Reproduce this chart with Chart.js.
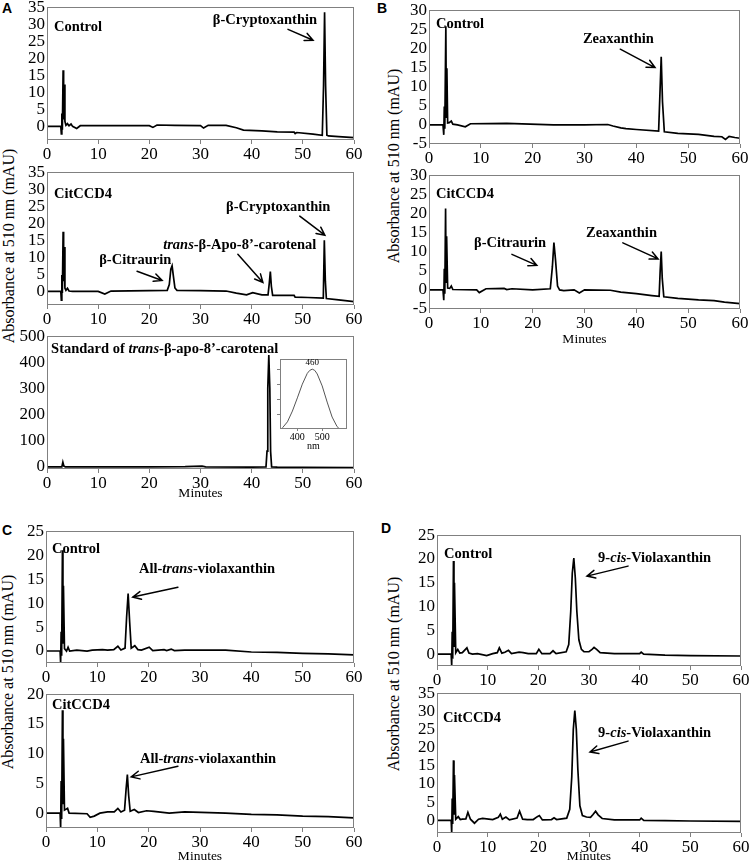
<!DOCTYPE html>
<html>
<head>
<meta charset="utf-8">
<script src="https://cdn.jsdelivr.net/npm/chart.js@4"></script>
<style>
  body { margin: 0; background: #fff; }
  #fig { position: relative; width: 750px; height: 863px; overflow: hidden; font-family: "Liberation Serif", serif; }
  #fig canvas { position: absolute; }
  .letter { position: absolute; font: bold 14px "Liberation Sans", Arial, sans-serif; line-height: 16px; }
  .ytitle { position: absolute; font-size: 16px; white-space: nowrap; transform: translate(-50%, -50%) rotate(-90deg); }
</style>
</head>
<body>
<div id="fig">
  <div class="letter" style="left:2px;top:0px">A</div>
  <div class="letter" style="left:377px;top:0px">B</div>
  <div class="letter" style="left:2px;top:522px">C</div>
  <div class="letter" style="left:381px;top:520px">D</div>
  <div class="ytitle" style="left:9px;top:246px">Absorbance at 510 nm (mAU)</div>
  <div class="ytitle" style="left:394px;top:166px">Absorbance at 510 nm (mAU)</div>
  <div class="ytitle" style="left:8px;top:672px">Absorbance at 510 nm (mAU)</div>
  <div class="ytitle" style="left:394px;top:674px">Absorbance at 510 nm (mAU)</div>
</div>
<script>
// tick labels
const minuteTicks = [0, 10, 20, 30, 40, 50, 60];
const ticks35 = [0, 5, 10, 15, 20, 25, 30, 35];
const ticksB = [-5, 0, 5, 10, 15, 20, 25, 30];
const ticks500 = [0, 100, 200, 300, 400, 500];
const ticks25 = [0, 5, 10, 15, 20, 25];
const ticks20 = [0, 5, 10, 15, 20];
const nmTicks = [400, 500];

// A - beta-cryptoxanthin
const tA1 = [0, 2.7, 2.8, 2.9, 3.0, 3.15, 3.25, 3.35, 3.5, 3.7, 4.0, 4.3, 4.7, 5.0, 5.8, 6.5, 10, 15, 20, 20.7, 21.5, 25, 30, 30.6, 31.5, 35, 37, 38.4, 42, 45, 48.3, 48.5, 48.8, 52, 53.8, 54.05, 54.25, 54.45, 54.7, 55, 57, 60];
const vA1 = [0, 0, -2.2, 3.8, -1, 16.5, 2, 12.3, 1.5, 0.3, 0.8, 0.2, 0.7, 0, -0.6, 0.2, 0.2, 0.2, 0.2, -0.3, 0.4, 0.3, 0.2, -0.5, 0.3, 0.3, -0.4, -1.1, -1.3, -1.6, -1.7, -2.1, -1.8, -2.3, -2.6, 12, 33.5, 12, -2.6, -2.8, -3.0, -3.3];
const tA2 = [0, 2.7, 2.8, 2.9, 3.0, 3.15, 3.25, 3.35, 3.5, 3.7, 4.0, 4.3, 5, 10, 11.3, 12.5, 20, 23.5, 23.9, 24.2, 24.45, 24.7, 25.0, 25.4, 30, 35, 37, 39, 40.2, 42, 43.2, 43.45, 43.65, 43.85, 44.1, 48.3, 48.5, 51, 54.0, 54.2, 54.4, 54.6, 57, 60];
const vA2 = [0, 0, -2.6, 4.8, -0.5, 17.5, 3, 13, 1, 0.3, 0.9, 0.1, 0, 0, -0.8, 0.1, 0.2, 0.3, 2, 6.5, 7.5, 4.5, 1, 0.3, 0.2, 0.1, -0.5, -1, -0.4, -1, -1, 2.5, 5.8, 1.5, -1.2, -1.2, -1.7, -1.8, -2, 15, 3, -2.1, -2.5, -3];
const tA3 = [0, 2.9, 3.1, 3.3, 3.6, 10, 20, 27, 30.3, 31, 40, 42.8, 43.0, 43.15, 43.35, 43.55, 43.7, 43.9, 45, 50, 60];
const vA3 = [0, 0, 18, 3, 0, 0, 0, 1, 3, 0, -1, 0, 60, 300, 428, 300, 60, 0, -1, -2, -3];
// inset spectrum
const nmInset = [340, 360, 380, 400, 420, 440, 450, 460, 470, 480, 500, 520, 540, 560, 570];
const absInset = [0.02, 0.12, 0.3, 0.52, 0.75, 0.93, 0.98, 1.0, 0.98, 0.92, 0.72, 0.45, 0.2, 0.04, 0];

// B - zeaxanthin
const tB1 = [0, 2.7, 2.85, 2.95, 3.05, 3.25, 3.35, 3.45, 3.6, 3.9, 4.3, 4.6, 5.5, 7.0, 8.0, 15, 24, 30, 34.5, 35.5, 37, 38, 40, 44.3, 44.55, 44.8, 45.05, 45.4, 48, 52, 55, 56.5, 57.2, 57.9, 59, 60];
const vB1 = [0, 0, -2.6, 4.8, -1, 25.8, 2, 14.8, 0.5, 0.6, 1, 0.2, 0, -0.5, 0.3, 0.4, 0, 0, 0.1, -0.3, -0.8, -1, -1.2, -1.6, 8, 17.8, 6, -1.8, -2.2, -2.5, -3, -3.1, -3.8, -3, -3.3, -3.5];
const tB2 = [0, 2.7, 2.85, 2.95, 3.05, 3.2, 3.3, 3.4, 3.6, 4.0, 4.3, 4.6, 9.2, 9.7, 11, 14.5, 15, 16, 20, 23.4, 23.8, 24.1, 24.4, 24.8, 25.2, 26, 28, 29, 30, 35, 37, 40, 43, 44.4, 44.6, 44.8, 45.0, 45.3, 48, 52, 55, 57, 60];
const vB2 = [0, 0, -2.7, 5.5, -1, 21.3, 2, 14, 0.5, 0.4, 1, 0.1, 0, -0.7, 0.3, 0.4, 0.1, 0.3, 0, 0.3, 6, 12.4, 8, 1, 0, -0.2, 0, -0.8, 0, -0.1, -0.6, -1, -1.5, -1.7, 5, 10, 3, -1.8, -2.2, -2.6, -2.8, -3.2, -3.6];

// C - all-trans-violaxanthin
const tC1 = [0, 2.75, 2.85, 2.95, 3.05, 3.2, 3.3, 3.4, 3.6, 4.0, 4.3, 4.6, 6, 8, 9, 11, 12, 13.2, 14.0, 14.6, 15.4, 15.7, 16.0, 16.3, 16.6, 17.3, 17.9, 18.6, 20.1, 20.8, 23, 23.5, 24.4, 25, 27, 35, 40, 45, 50, 55, 60];
const vC1 = [0, 0, -2.5, 4, -1, 21, 1.5, 13.6, 0.5, 0, 0.8, 0, 0.2, 0, 0.2, 0.3, 0.2, 0.3, 1.0, 0.2, 0.6, 7, 12, 6, 0.6, 1.1, 0.3, 0.2, 0.8, 0.1, 0.3, 0.1, 0.4, 0.1, 0.2, 0.2, -0.2, -0.3, -0.5, -0.6, -0.8];
const tC2 = [0, 2.75, 2.85, 2.95, 3.05, 3.2, 3.3, 3.4, 3.6, 4.2, 4.5, 8.0, 8.6, 9.4, 10.5, 12, 13.3, 14, 14.6, 15.3, 15.6, 15.85, 16.1, 16.4, 17.2, 18, 19.6, 21, 24, 27, 35, 40, 45, 50, 55, 60];
const vC2 = [0, 0, -2.5, 5.4, -1, 17.3, 1.5, 12.5, 0.5, 0.8, 0, -0.1, -0.7, -0.5, 0, 0.2, 0.2, 0.8, 0.2, 0.5, 4, 6.5, 3, 0.3, 0.6, 0.1, 0.4, 0.3, 0, 0.2, 0, -0.2, -0.3, -0.5, -0.6, -0.8];

// D - 9-cis-violaxanthin
const tD1 = [0, 2.8, 2.9, 3.0, 3.1, 3.25, 3.35, 3.45, 3.7, 4.1, 4.5, 5.0, 5.9, 6.3, 7, 8, 9.8, 11, 11.9, 12.3, 12.8, 13.4, 14.1, 14.7, 16.2, 17, 18, 19.6, 20.1, 20.7, 22.3, 22.9, 23.5, 25.5, 26.0, 26.4, 26.7, 27.0, 27.3, 27.6, 28.0, 28.5, 29, 30, 30.6, 31.0, 31.5, 32.2, 35, 40, 40.3, 40.8, 45, 50, 60];
const vD1 = [0, 0, -2.5, 4.7, -1, 19.6, 1.5, 15, 0.3, 1.0, 0.2, 0.3, 1.3, 0.2, 0, 0.1, -0.3, 0.1, 0.3, 1.3, 0.2, 0.4, 0.8, 0.1, 0.4, 0.3, 0.1, 0.1, 1.0, 0.1, 0.1, 0.7, 0.1, 0.5, 2, 9, 17, 20.2, 16, 9, 3, 1, 0.5, 0.5, 1, 1.4, 1, 0.3, 0.1, 0.1, 0.4, 0, -0.2, -0.3, -0.4];
const tD2 = [0, 2.8, 2.9, 3.0, 3.1, 3.25, 3.35, 3.45, 3.7, 4.2, 4.6, 5.0, 5.7, 6.1, 6.6, 7.4, 8.2, 9, 11, 12.1, 12.5, 12.9, 13.6, 14.3, 15.8, 16.3, 16.9, 17.8, 19, 19.8, 20.2, 20.8, 22.6, 23.1, 23.6, 25.6, 26.2, 26.6, 26.9, 27.2, 27.5, 27.8, 28.2, 28.7, 29.5, 30.3, 30.8, 31.3, 31.8, 32.6, 35, 40, 40.3, 40.8, 45, 50, 60];
const vD2 = [0, 0, -3.5, 6, -1, 16.5, 1.5, 12.5, 0.3, 1.0, 0.2, 0.3, 0.4, 2.2, 0.3, -0.8, 0.3, 0.5, 0.2, 0.8, 1.7, 0.3, 0.9, 0.1, 0.6, 2.5, 0.3, 0.2, 0.2, 1.0, 1.3, 0.1, 0.2, 0.7, 0.2, 0.6, 3, 12, 25, 30.2, 25, 14, 4, 1.3, 0.9, 0.8, 1.6, 2.5, 1.5, 0.5, 0.1, 0.1, 0.6, 0, -0.1, -0.2, -0.3];

const fig = document.getElementById('fig');
const FRAME = '#808080';
const B = (s) => [[s, false]];

// text labels and arrows, placed in data units of each panel
function notesPlugin(notes, arrows) {
  return {
    id: 'notes',
    afterDatasetsDraw(chart) {
      const { ctx, chartArea: a, scales: { x, y } } = chart;
      ctx.save();
      ctx.strokeStyle = FRAME;
      ctx.lineWidth = 1;
      ctx.strokeRect(Math.round(a.left) + 0.5, Math.round(a.top) + 0.5, Math.round(a.width) - 1, Math.round(a.height) - 1);
      ctx.fillStyle = '#000';
      ctx.textBaseline = 'alphabetic';
      notes.forEach(n => {
        let px = x.getPixelForValue(n.x);
        const py = y.getPixelForValue(n.y);
        const w = n.bold === false ? '' : 'bold ';
        if (n.center) {
          ctx.textAlign = 'center';
          ctx.font = w + n.size + 'px "Liberation Serif"';
          ctx.fillText(n.parts[0][0], px, py);
          return;
        }
        ctx.textAlign = 'left';
        n.parts.forEach(([s, it]) => {
          ctx.font = (it ? 'italic ' : '') + w + (n.size || 14.5) + 'px "Liberation Serif"';
          ctx.fillText(s, px, py);
          px += ctx.measureText(s).width;
        });
      });
      ctx.strokeStyle = '#000';
      ctx.lineWidth = 1.5;
      ctx.lineCap = 'round';
      arrows.forEach(ar => {
        const x0 = x.getPixelForValue(ar[0]), y0 = y.getPixelForValue(ar[1]);
        const x1 = x.getPixelForValue(ar[2]), y1 = y.getPixelForValue(ar[3]);
        const ang = Math.atan2(y1 - y0, x1 - x0), L = 9, s = 0.45;
        ctx.beginPath();
        ctx.moveTo(x0, y0); ctx.lineTo(x1, y1);
        ctx.moveTo(x1 - L * Math.cos(ang - s), y1 - L * Math.sin(ang - s));
        ctx.lineTo(x1, y1);
        ctx.lineTo(x1 - L * Math.cos(ang + s), y1 - L * Math.sin(ang + s));
        ctx.stroke();
      });
      ctx.restore();
    }
  };
}

function makePanel(p) {
  const padL = p.padL || 46, padR = p.padR || 14, padT = p.padT || 12, padB = p.padB || 24;
  const [l, t, r, b] = p.box;
  const w = r - l + padL + padR, h = b - t + padT + padB;
  const cv = document.createElement('canvas');
  cv.width = w; cv.height = h;
  cv.style.left = (l - padL) + 'px'; cv.style.top = (t - padT) + 'px';
  cv.style.width = w + 'px'; cv.style.height = h + 'px';
  fig.appendChild(cv);
  const fs = p.fontSize || 17;
  new Chart(cv, {
    type: 'line',
    data: {
      datasets: [{
        data: p.t.map((x, i) => ({ x: x, y: p.v[i] })),
        borderColor: p.color || '#000',
        borderWidth: p.lw || 1.7,
        pointRadius: 0,
        tension: 0,
        fill: false
      }]
    },
    options: {
      responsive: false,
      animation: false,
      layout: { padding: { top: padT, right: padR, left: 0, bottom: 0 } },
      plugins: { legend: { display: false }, tooltip: { enabled: false } },
      scales: {
        x: {
          type: 'linear', min: p.xMin, max: p.xMax,
          afterBuildTicks: s => { s.ticks = p.xTicks.map(v => ({ value: v })); },
          afterFit: s => { s.height = padB; },
          border: { display: false },
          grid: { drawOnChartArea: false, tickLength: p.xTickLen || 4, color: FRAME },
          ticks: { font: { family: 'Liberation Serif', size: fs }, color: '#000', padding: 0, maxRotation: 0, autoSkip: false },
          title: { display: !!p.xTitle, text: p.xTitle, color: '#000', padding: { top: 0, bottom: 0 },
                   font: { family: 'Liberation Serif', size: p.xTitleSize || 13.5 } }
        },
        y: {
          min: p.yMin, max: p.yMax,
          afterBuildTicks: s => { s.ticks = p.yTicks.map(v => ({ value: v })); },
          afterFit: s => { s.width = padL; },
          border: { display: false },
          grid: { drawOnChartArea: false, drawTicks: !!p.yTickMarks, tickLength: 3, color: FRAME },
          ticks: { display: !p.hideY, autoSkip: false, font: { family: 'Liberation Serif', size: fs }, color: '#000', padding: 2 }
        }
      }
    },
    plugins: [notesPlugin(p.notes || [], p.arrows || [])]
  });
}

const panels = [
  { box: [47, 7, 354, 140], xMin: 0, xMax: 60, xTicks: minuteTicks, yMin: -4, yMax: 35, yTicks: ticks35, t: tA1, v: vA1,
    notes: [{ x: 1.37, y: 28, parts: B('Control') }, { x: 32.4, y: 30, parts: B('β-Cryptoxanthin') }],
    arrows: [[47.1, 28.5, 52.0, 25.3]] },
  { box: [47, 172, 354, 305], xMin: 0, xMax: 60, xTicks: minuteTicks, yMin: -4, yMax: 35, yTicks: ticks35, t: tA2, v: vA2,
    notes: [{ x: 1.37, y: 27.4, parts: B('CitCCD4') }, { x: 35.0, y: 23.6, parts: B('β-Cryptoxanthin') },
            { x: 22.7, y: 12.4, parts: [['trans', true], ['-β-Apo-8’-carotenal', false]] },
            { x: 10.2, y: 8.0, parts: B('β-Citraurin') }],
    arrows: [[49.4, 22.1, 54.3, 16.5], [37.3, 10.9, 42.2, 2.6], [17.6, 5.9, 22.5, 3.2]] },
  { box: [47, 336, 354, 469], padB: 33, xTitle: 'Minutes', xMin: 0, xMax: 60, xTicks: minuteTicks, yMin: -8, yMax: 500, yTicks: ticks500, t: tA3, v: vA3,
    notes: [{ x: 0.8, y: 435, parts: [['Standard of ', false], ['trans', true], ['-β-apo-8’-carotenal', false]] }] },
  { box: [429, 10, 740, 144], xMin: 0, xMax: 60, xTicks: minuteTicks, yMin: -5, yMax: 30, yTicks: ticksB, t: tB1, v: vB1,
    notes: [{ x: 1.35, y: 25.3, parts: B('Control') }, { x: 29.7, y: 21.5, parts: B('Zeaxanthin') }],
    arrows: [[36.9, 19.8, 43.6, 15]] },
  { box: [429, 175, 740, 309], padB: 39, xTitle: 'Minutes', xMin: 0, xMax: 60, xTicks: minuteTicks, yMin: -5, yMax: 30, yTicks: ticksB, t: tB2, v: vB2,
    notes: [{ x: 1.35, y: 24.1, parts: B('CitCCD4') }, { x: 8.7, y: 11.2, parts: B('β-Citraurin') }, { x: 30.3, y: 13.8, parts: B('Zeaxanthin') }],
    arrows: [[16.0, 9.3, 20.8, 6.4], [37.4, 12.3, 44.2, 8.1]] },
  { box: [46, 531, 354, 663], xMin: 0, xMax: 60, xTicks: minuteTicks, yMin: -2.5, yMax: 25, yTicks: ticks25, t: tC1, v: vC1,
    notes: [{ x: 1.17, y: 20.4, parts: B('Control') }, { x: 18.1, y: 16.25, parts: [['All-', false], ['trans', true], ['-violaxanthin', false]] }],
    arrows: [[25.7, 13.3, 16.9, 11.25]] },
  { box: [46, 694, 354, 828], padB: 37, xTitle: 'Minutes', xMin: 0, xMax: 60, xTicks: minuteTicks, yMin: -2.5, yMax: 20, yTicks: ticks20, t: tC2, v: vC2,
    notes: [{ x: 1.17, y: 17.5, parts: B('CitCCD4') }, { x: 18.3, y: 8.4, parts: [['All-', false], ['trans', true], ['-violaxanthin', false]] }],
    arrows: [[25.7, 7.9, 16.6, 6.1]] },
  { box: [437, 535, 741, 666], xMin: 0, xMax: 60, xTicks: minuteTicks, yMin: -2.5, yMax: 25, yTicks: ticks25, t: tD1, v: vD1,
    notes: [{ x: 1.4, y: 20.2, parts: B('Control') }, { x: 31.8, y: 19.3, parts: [['9-', false], ['cis', true], ['-Violaxanthin', false]] }],
    arrows: [[37.7, 18.5, 29.6, 16.4]] },
  { box: [437, 693, 741, 833], padB: 32, xTitle: 'Minutes', xMin: 0, xMax: 60, xTicks: minuteTicks, yMin: -3.5, yMax: 35, yTicks: ticks35, t: tD2, v: vD2,
    notes: [{ x: 1.2, y: 27.0, parts: B('CitCCD4') }, { x: 31.8, y: 22.9, parts: [['9-', false], ['cis', true], ['-Violaxanthin', false]] }],
    arrows: [[37.7, 21.8, 30.2, 18.8]] }
];
panels.forEach(makePanel);

// absorption spectrum inset in panel A
makePanel({ box: [280, 359, 347, 429], padL: 8, padR: 10, padT: 4, padB: 23, xTitle: 'nm', xTitleSize: 10, fontSize: 10, xTickLen: 2,
  xMin: 330, xMax: 600, xTicks: nmTicks, yMin: 0, yMax: 1.17, yTicks: [0.25, 0.5, 0.75, 1.0], hideY: true, yTickMarks: true,
  t: nmInset, v: absInset, color: '#555', lw: 1,
  notes: [{ x: 460, y: 1.07, parts: B('460'), size: 9, bold: false, center: true }] });
</script>
</body>
</html>
